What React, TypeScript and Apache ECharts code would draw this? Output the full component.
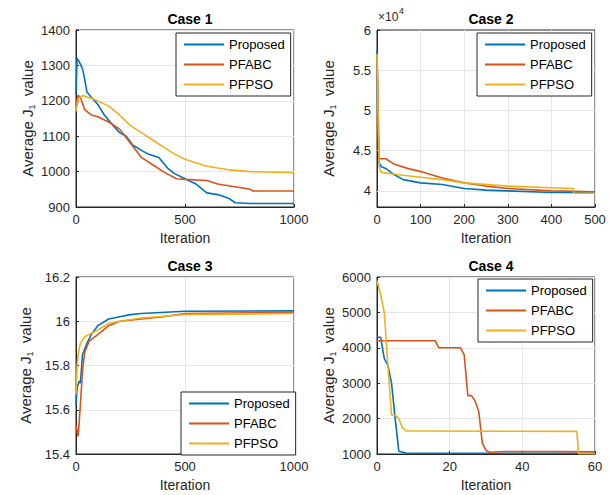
import React, { useEffect, useRef } from "react";
import * as echarts from "echarts";

const seriesNames = ["Proposed", "PFABC", "PFPSO"];
const colors = ["#0072BD", "#D95319", "#EDB120"];
const titles = ["Case 1", "Case 2", "Case 3", "Case 4"];

const c1Proposed = [[0,1220],[5,1320],[15,1310],[30,1290],[40,1260],[50,1225],[70,1210],[100,1190],[130,1160],[170,1130],[200,1110],[230,1100],[260,1075],[300,1060],[330,1050],[380,1040],[420,1010],[450,995],[500,980],[550,965],[600,940],[650,935],[700,925],[730,912],[800,910],[1000,910]];
const c1PFABC = [[0,1190],[10,1215],[20,1210],[40,1175],[70,1160],[100,1155],[150,1140],[200,1120],[250,1080],[300,1040],[350,1020],[400,1000],[460,980],[500,978],[600,975],[650,965],[700,960],[800,950],[810,945],[1000,945]];
const c1PFPSO = [[0,1170],[10,1205],[30,1215],[80,1205],[150,1185],[200,1160],[250,1130],[300,1110],[350,1090],[400,1070],[450,1050],[500,1035],[550,1025],[600,1015],[700,1005],[800,1000],[1000,997]];

const c2Proposed = [[0,5.75],[3,4.6],[5,4.35],[10,4.3],[20,4.28],[30,4.24],[40,4.2],[60,4.14],[100,4.1],[150,4.08],[200,4.03],[250,4.01],[300,4.0],[400,3.98],[450,3.98],[500,3.98]];
const c2PFABC = [[0,5.7],[5,4.4],[20,4.4],[40,4.33],[70,4.28],[100,4.24],[150,4.16],[200,4.1],[250,4.06],[300,4.03],[400,4.0],[500,3.99]];
const c2PFPSO = [[0,5.7],[5,4.3],[10,4.23],[50,4.2],[100,4.17],[150,4.14],[200,4.1],[300,4.06],[400,4.04],[450,4.03],[452,3.97],[500,3.97]];

const c3Proposed = [[0,15.62],[5,15.7],[15,15.73],[20,15.72],[30,15.85],[50,15.9],[70,15.94],[100,15.98],[150,16.01],[200,16.02],[250,16.03],[300,16.035],[500,16.045],[1000,16.047]];
const c3PFABC = [[0,15.53],[10,15.48],[20,15.62],[30,15.78],[40,15.86],[60,15.91],[100,15.94],[150,15.98],[200,16.0],[300,16.01],[400,16.02],[500,16.035],[1000,16.04]];
const c3PFPSO = [[0,15.67],[5,15.8],[10,15.85],[20,15.9],[40,15.93],[60,15.94],[100,15.96],[150,15.99],[200,16.0],[300,16.015],[500,16.03],[1000,16.035]];

const c4Proposed = [[0,4300],[1,4300],[2,3700],[3,3500],[4,3000],[5,2000],[6,1080],[8,1030],[10,1020],[60,1020]];
const c4PFABC = [[0,4200],[16,4200],[17,4000],[23,4000],[24,3800],[25,2650],[26,2650],[27,2500],[28,2200],[29,1300],[30,1100],[31,1050],[35,1070],[50,1070],[60,1060]];
const c4PFPSO = [[0,5900],[1,5500],[2,5000],[3,3500],[4,2100],[5,2100],[6,2000],[7,1750],[8,1650],[10,1650],[55,1640],[55.5,1010],[60,1010]];

const caseData = [
  [c1Proposed, c1PFABC, c1PFPSO],
  [c2Proposed, c2PFABC, c2PFPSO],
  [c3Proposed, c3PFABC, c3PFPSO],
  [c4Proposed, c4PFABC, c4PFPSO],
];

const xRanges = [[0, 1000, 500], [0, 500, 100], [0, 1000, 500], [0, 60, 20]];
const yRanges = [[900, 1400, 100], [3.8, 6, 0.5], [15.4, 16.2, 0.2], [1000, 6000, 1000]];
const case2YTicks = [4, 4.5, 5, 5.5, 6];

const grids = [
  { left: 76, top: 30, width: 218, height: 177 },
  { left: 377, top: 30, width: 218, height: 177 },
  { left: 76, top: 277, width: 218, height: 177 },
  { left: 377, top: 277, width: 218, height: 177 },
];
const legendPos = [
  { left: 176, top: 33 },
  { left: 477, top: 33 },
  { left: 181, top: 392 },
  { left: 478, top: 279 },
];

const font = "Liberation Sans, Arial, sans-serif";

export default function App() {
  const ref = useRef<HTMLDivElement>(null);
  useEffect(() => {
    document.body.style.margin = "0";
    const chart = echarts.init(ref.current!, null, { renderer: "svg" });
    const axisLine = { show: true, lineStyle: { color: "#262626", width: 1 } };
    const split = { show: true, lineStyle: { color: "#e6e6e6" } };
    const fmt = (v: number) => String(Math.round(v * 1000) / 1000);
    const label = { color: "#262626", fontSize: 13, fontFamily: font, formatter: fmt };
    const xAxis: any[] = [];
    const yAxis: any[] = [];
    const series: any[] = [];
    const legend: any[] = [];
    grids.forEach((g, i) => {
      xAxis.push({
        type: "value", gridIndex: i, min: xRanges[i][0], max: xRanges[i][1], interval: xRanges[i][2],
        name: "Iteration", nameLocation: "middle", nameGap: 24,
        nameTextStyle: { color: "#262626", fontSize: 14, fontFamily: font },
        axisLine, axisTick: { show: true, inside: true, length: 3, lineStyle: { color: "#262626" } },
        axisLabel: { ...label, margin: 6 }, splitLine: split,
      });
      const y: any = {
        type: "value", gridIndex: i, min: yRanges[i][0], max: yRanges[i][1],
        name: "{a|Average J}{s|1}{a|  value}", nameLocation: "middle", nameGap: i === 2 ? 42 : 40,
        nameTextStyle: { rich: { a: { fontSize: 15, color: "#262626", fontFamily: font }, s: { fontSize: 9, color: "#262626", fontFamily: font, padding: [8, 0, 0, 0] } } },
        axisLine, axisTick: { show: true, inside: true, length: 3, lineStyle: { color: "#262626" } },
        axisLabel: { ...label, margin: 6 }, splitLine: split,
      };
      if (i === 1) {
        y.axisLabel = { ...label, margin: 6, customValues: case2YTicks };
        y.axisTick = { ...y.axisTick, customValues: case2YTicks };
        y.splitLine = { show: false };
      } else {
        y.interval = yRanges[i][2];
      }
      yAxis.push(y);
      caseData[i].forEach((d, k) => {
        const s: any = {
          type: "line", name: seriesNames[k], xAxisIndex: i, yAxisIndex: i, data: d,
          showSymbol: false, symbol: "none", lineStyle: { width: 1.6, color: colors[k] }, color: colors[k], z: 3,
        };
        if (i === 1 && k === 0) {
          s.markLine = {
            silent: true, symbol: "none", label: { show: false }, z: 1,
            lineStyle: { color: "#e6e6e6", type: "solid", width: 1 },
            data: case2YTicks.slice(0, 4).map((v) => ({ yAxis: v })),
          };
        }
        series.push(s);
      });
      legend.push({
        data: seriesNames, left: legendPos[i].left, top: legendPos[i].top, orient: "vertical",
        backgroundColor: "#fff", borderColor: "#262626", borderWidth: 1, borderRadius: 0,
        padding: [5, 6, 5, 8], itemGap: 7, itemWidth: 40, itemHeight: 2, icon: "rect",
        textStyle: { fontSize: 13, color: "#000", fontFamily: font }, selectedMode: false,
      });
    });
    chart.setOption({
      animation: false,
      backgroundColor: "#fff",
      title: titles.map((t, i) => ({
        text: t, left: grids[i].left + grids[i].width / 2, top: grids[i].top - 23, textAlign: "center",
        textStyle: { fontSize: 14, fontWeight: "bold", color: "#000", fontFamily: font },
      })),
      grid: grids.map((g) => ({ ...g, show: true, borderColor: "#262626", borderWidth: 1, backgroundColor: "transparent" })),
      xAxis, yAxis, series, legend,
      graphic: [{
        type: "text", left: 378, top: 11,
        style: { text: "×10", fill: "#262626", fontSize: 12, fontFamily: font },
      }, {
        type: "text", left: 399, top: 6,
        style: { text: "4", fill: "#262626", fontSize: 9, fontFamily: font },
      }],
    });
    return () => chart.dispose();
  }, []);
  return <div ref={ref} style={{ width: 609, height: 495 }} />;
}
